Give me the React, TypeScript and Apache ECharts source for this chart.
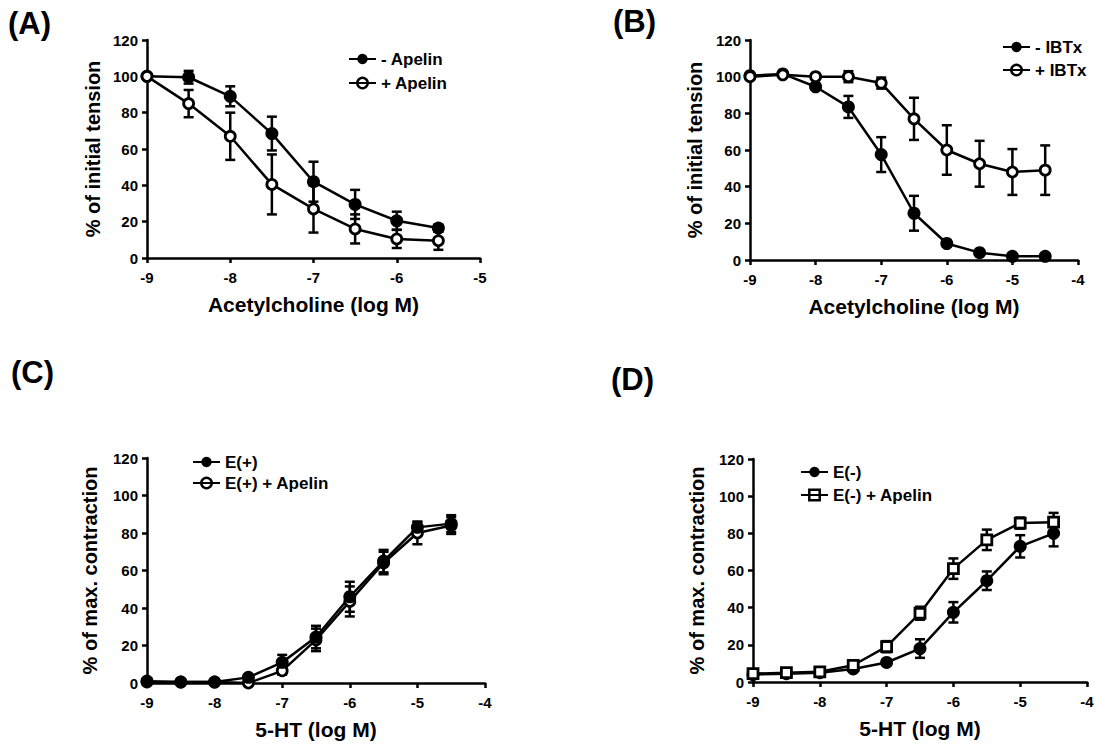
import React, { useEffect, useRef } from "react";
import * as echarts from "echarts";

// Panel A: acetylcholine, +/- apelin
const aX = [-9, -8.5, -8, -7.5, -7, -6.5, -6, -5.5];
const aMinusApelin = [100, 99.5, 89, 68.5, 42, 29.5, 20.5, 16.5];
const aMinusApelinErr = [0, 3.5, 5.5, 9.3, 11, 8, 5, 2];
const aPlusApelin = [100, 85, 67, 40.5, 27, 16, 10.5, 9.5];
const aPlusApelinErr = [0, 7.5, 13, 16.5, 13, 8, 5, 5];

// Panel B: acetylcholine, +/- IBTx
const bX = [-9, -8.5, -8, -7.5, -7, -6.5, -6, -5.5, -5, -4.5];
const bMinusIBTx = [100.5, 101.5, 94.5, 83.5, 57.5, 25.5, 9, 4, 2, 2];
const bMinusIBTxErr = [1, 1, 1.5, 6, 9.5, 9.5, 1.5, 1, 0.5, 0.5];
const bPlusIBTx = [100, 101, 100, 100, 96.5, 77, 60, 52.5, 48, 49];
const bPlusIBTxErr = [1, 1, 1, 3, 3, 11.5, 13.5, 12.5, 12.5, 13.5];

// Panel C: 5-HT, E(+)
const cX = [-9, -8.5, -8, -7.5, -7, -6.5, -6, -5.5, -5, -4.5];
const cEplus = [1, 0.5, 0.5, 3, 11, 24.5, 46, 65, 83, 85];
const cEplusErr = [0.5, 0.5, 0.5, 1, 4, 6, 8, 6, 3, 4.5];
const cEplusApelin = [0.5, 0.5, 0.5, 0, 6.5, 23, 43.5, 64, 80, 84];
const cEplusApelinErr = [0.5, 0.5, 0.5, 0.5, 2, 6, 8, 6, 6, 4.5];

// Panel D: 5-HT, E(-)
const dX = [-9, -8.5, -8, -7.5, -7, -6.5, -6, -5.5, -5, -4.5];
const dEminus = [4, 4.5, 5, 7, 10.5, 18, 37.5, 54.5, 73, 80];
const dEminusErr = [1, 1, 1, 1, 1.5, 5, 5.5, 5, 6, 7];
const dEminusApelin = [4.5, 5, 5.5, 9, 19, 37, 61, 76.5, 85.5, 86];
const dEminusApelinErr = [1, 1, 1, 1, 3, 3.5, 5.5, 5.5, 3, 5];

const yTicksMin = 0;
const yTicksMax = 120;
const yTickStep = 20;

const FONT = "'Liberation Sans', Arial, sans-serif";

function pts(xs: number[], ys: number[]) {
  return xs.map((x, i) => [x, ys[i]]);
}
function errs(xs: number[], ys: number[], es: number[]) {
  return xs.map((x, i) => [x, ys[i] - es[i], ys[i] + es[i]]);
}

function xAxis(gridIndex: number, max: number, name: string) {
  return {
    type: "value",
    gridIndex,
    min: -9,
    max,
    interval: 1,
    name,
    nameLocation: "middle",
    nameGap: 36,
    nameTextStyle: { fontFamily: FONT, fontWeight: "bold", fontSize: 21, color: "#000" },
    axisLine: { show: true, onZero: false, lineStyle: { color: "#000", width: 2.5 } },
    axisTick: { show: true, length: 5, lineStyle: { color: "#000", width: 2.5 } },
    axisLabel: { fontFamily: FONT, fontWeight: "bold", fontSize: 15, color: "#000", margin: 12 },
    splitLine: { show: false },
  };
}

function yAxis(gridIndex: number, name: string, gap: number) {
  return {
    type: "value",
    gridIndex,
    min: yTicksMin,
    max: yTicksMax,
    interval: yTickStep,
    name,
    nameLocation: "middle",
    nameGap: gap,
    nameTextStyle: { fontFamily: FONT, fontWeight: "bold", fontSize: 20, color: "#000" },
    axisLine: { show: true, onZero: false, lineStyle: { color: "#000", width: 2.5 } },
    axisTick: { show: true, length: 5, lineStyle: { color: "#000", width: 2.5 } },
    axisLabel: { fontFamily: FONT, fontWeight: "bold", fontSize: 15, color: "#000", margin: 9 },
    splitLine: { show: false },
  };
}

function lineSeries(name: string, idx: number, data: number[][], symbol: string, open: boolean) {
  return {
    type: "line",
    name,
    xAxisIndex: idx,
    yAxisIndex: idx,
    data,
    clip: false,
    z: 3,
    symbol,
    symbolSize: open ? 10 : 13,
    showAllSymbol: true,
    lineStyle: { color: "#000", width: 2.5 },
    itemStyle: open
      ? { color: "#fff", borderColor: "#000", borderWidth: 2.8 }
      : { color: "#000", borderColor: "#000", borderWidth: 0 },
    emphasis: { disabled: true },
  };
}

function errSeries(idx: number, data: number[][]) {
  return {
    type: "custom",
    xAxisIndex: idx,
    yAxisIndex: idx,
    data,
    z: 2,
    silent: true,
    clip: false,
    encode: { x: 0, y: [1, 2] },
    renderItem: (params: any, api: any) => {
      const x = api.value(0);
      const lo = api.coord([x, api.value(1)]);
      const hi = api.coord([x, api.value(2)]);
      const w = 5;
      const st = { stroke: "#000", lineWidth: 2.5 };
      return {
        type: "group",
        children: [
          { type: "line", shape: { x1: lo[0], y1: lo[1], x2: hi[0], y2: hi[1] }, style: st },
          { type: "line", shape: { x1: lo[0] - w, y1: lo[1], x2: lo[0] + w, y2: lo[1] }, style: st },
          { type: "line", shape: { x1: hi[0] - w, y1: hi[1], x2: hi[0] + w, y2: hi[1] }, style: st },
        ],
      };
    },
  };
}

function legend(filled: string, open: string, left: number, top: number, gap: number) {
  return {
    orient: "vertical",
    left,
    top,
    itemGap: gap,
    itemWidth: 27,
    itemHeight: 13,
    data: [
      { name: filled },
      { name: open, itemStyle: { color: "rgba(255,255,255,0)", borderColor: "#000", borderWidth: 2.5 } },
    ],
    selectedMode: false,
    textStyle: { fontFamily: FONT, fontWeight: "bold", fontSize: 17, color: "#000", lineHeight: 20 },
  };
}

function panelLabel(text: string, left: number, top: number) {
  return {
    type: "text",
    left,
    top,
    style: { text, fontFamily: FONT, fontWeight: "bold", fontSize: 31, fill: "#000" },
  };
}

export default function App() {
  const ref = useRef<HTMLDivElement>(null);
  useEffect(() => {
    document.body.style.margin = "0";
    const chart = echarts.init(ref.current!, null, { renderer: "svg" });
    chart.setOption({
      animation: false,
      backgroundColor: "#fff",
      grid: [
        { left: 147, top: 40, width: 333, height: 218 },
        { left: 750, top: 40, width: 328, height: 220 },
        { left: 147, top: 458, width: 338, height: 225 },
        { left: 753, top: 459, width: 334, height: 223 },
      ],
      xAxis: [
        xAxis(0, -5, "Acetylcholine (log M)"),
        xAxis(1, -4, "Acetylcholine (log M)"),
        xAxis(2, -4, "5-HT (log M)"),
        xAxis(3, -4, "5-HT (log M)"),
      ],
      yAxis: [
        yAxis(0, "% of initial tension", 44),
        yAxis(1, "% of initial tension", 45),
        yAxis(2, "% of max. contraction", 47),
        yAxis(3, "% of max. contraction", 46),
      ],
      legend: [
        legend("- Apelin", "+ Apelin", 343, 44, 4),
        legend("- IBTx", "+ IBTx", 997, 32, 3),
        legend("E(+)", "E(+) + Apelin", 187, 447, 1),
        legend("E(-)", "E(-) + Apelin", 795, 457, 3),
      ],
      graphic: [
        panelLabel("(A)", 8, 8),
        panelLabel("(B)", 613, 6),
        panelLabel("(C)", 11, 357),
        panelLabel("(D)", 611, 364),
      ],
      series: [
        errSeries(0, errs(aX, aMinusApelin, aMinusApelinErr)),
        errSeries(0, errs(aX, aPlusApelin, aPlusApelinErr)),
        lineSeries("- Apelin", 0, pts(aX, aMinusApelin), "circle", false),
        lineSeries("+ Apelin", 0, pts(aX, aPlusApelin), "circle", true),

        errSeries(1, errs(bX, bMinusIBTx, bMinusIBTxErr)),
        errSeries(1, errs(bX, bPlusIBTx, bPlusIBTxErr)),
        lineSeries("- IBTx", 1, pts(bX, bMinusIBTx), "circle", false),
        lineSeries("+ IBTx", 1, pts(bX, bPlusIBTx), "circle", true),

        errSeries(2, errs(cX, cEplus, cEplusErr)),
        errSeries(2, errs(cX, cEplusApelin, cEplusApelinErr)),
        lineSeries("E(+) + Apelin", 2, pts(cX, cEplusApelin), "circle", true),
        lineSeries("E(+)", 2, pts(cX, cEplus), "circle", false),

        errSeries(3, errs(dX, dEminus, dEminusErr)),
        errSeries(3, errs(dX, dEminusApelin, dEminusApelinErr)),
        lineSeries("E(-)", 3, pts(dX, dEminus), "circle", false),
        lineSeries("E(-) + Apelin", 3, pts(dX, dEminusApelin), "rect", true),
      ],
    });
    return () => chart.dispose();
  }, []);
  return <div ref={ref} style={{ width: 1097, height: 744 }} />;
}
